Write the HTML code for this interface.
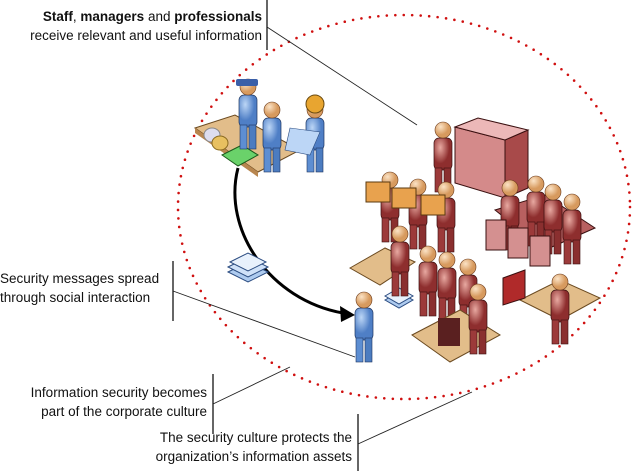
<!DOCTYPE html>
<html><head><meta charset="utf-8"><style>
body{margin:0;background:#fff;width:634px;height:473px;overflow:hidden;font-family:"Liberation Sans",sans-serif}
.t{position:absolute;font-size:13.5px;line-height:19px;color:#111;text-align:right}
</style></head><body>
<svg width="634" height="473" style="position:absolute;left:0;top:0">
<defs>
<radialGradient id="bl" cx="35%" cy="30%"><stop offset="0" stop-color="#bcd6f6"/><stop offset="1" stop-color="#4f7fc6"/></radialGradient>
<radialGradient id="rd" cx="35%" cy="30%"><stop offset="0" stop-color="#e8a9a1"/><stop offset="1" stop-color="#8e2e2e"/></radialGradient>
<radialGradient id="hd" cx="35%" cy="30%"><stop offset="0" stop-color="#fbe3c6"/><stop offset="1" stop-color="#d79a5e"/></radialGradient>
<g id="pr"><rect x="-9" y="0" width="18" height="32" rx="5" fill="url(#rd)" stroke="#3a1010" stroke-width=".7"/><rect x="-8" y="30" width="7" height="24" fill="#9c3a3a" stroke="#3a1010" stroke-width=".6"/><rect x="1" y="30" width="7" height="24" fill="#8a2f2f" stroke="#3a1010" stroke-width=".6"/><circle cx="0" cy="-8" r="8" fill="url(#hd)" stroke="#6b3a1a" stroke-width=".6"/></g>
<g id="pb"><rect x="-9" y="0" width="18" height="32" rx="5" fill="url(#bl)" stroke="#1d3560" stroke-width=".7"/><rect x="-8" y="30" width="7" height="24" fill="#5d8ed2" stroke="#1d3560" stroke-width=".6"/><rect x="1" y="30" width="7" height="24" fill="#4c7cc0" stroke="#1d3560" stroke-width=".6"/><circle cx="0" cy="-8" r="8" fill="url(#hd)" stroke="#6b3a1a" stroke-width=".6"/></g>
</defs>
<ellipse cx="404" cy="207" rx="226" ry="192" fill="none" stroke="#d01010" stroke-width="2.6" stroke-dasharray="0 8.5" stroke-linecap="round"/>
<line x1="267" y1="0" x2="267" y2="50" stroke="#000" stroke-width="1.2"/>
<line x1="267" y1="27" x2="417" y2="125" stroke="#222" stroke-width=".9"/>
<line x1="173" y1="261" x2="173" y2="321" stroke="#000" stroke-width="1.2"/>
<line x1="173" y1="291" x2="355" y2="357" stroke="#222" stroke-width=".9"/>
<line x1="213" y1="374" x2="213" y2="434" stroke="#000" stroke-width="1.2"/>
<line x1="213" y1="404" x2="290" y2="367" stroke="#222" stroke-width=".9"/>
<line x1="358" y1="414" x2="358" y2="471" stroke="#000" stroke-width="1.2"/>
<line x1="358" y1="444" x2="472" y2="392" stroke="#222" stroke-width=".9"/>
<path d="M238 168 C222 230 270 300 343 313" fill="none" stroke="#000" stroke-width="3"/>
<path d="M355 315 L340 306 L341 322 Z" fill="#000"/>
<!-- left desk group -->
<polygon points="195,128 235,115 300,150 258,172" fill="#e2bd8a" stroke="#6b4a20"/>
<polygon points="195,128 258,172 258,177 195,133" fill="#b8864f"/>
<ellipse cx="212" cy="135" rx="8" ry="7" fill="#dde" stroke="#888"/>
<ellipse cx="220" cy="143" rx="8" ry="7" fill="#e8c060" stroke="#8a6a20"/>
<polygon points="222,155 242,145 258,155 238,166" fill="#6ad26a" stroke="#1c5a1c"/>
<use href="#pb" x="248" y="95"/>
<use href="#pb" x="272" y="118"/>
<use href="#pb" x="315" y="118"/>
<circle cx="315" cy="104" r="9" fill="#e8a530" stroke="#6a4a10"/>
<rect x="236" y="79" width="22" height="7" rx="2" fill="#3a5fa8"/>
<polygon points="290,128 320,132 310,155 285,150" fill="#bcd6f6" stroke="#2a4b80" stroke-width=".6"/>
<!-- messages -->
<g transform="translate(228,262)"><polygon points="0,10 20,0 40,10 20,20" fill="#aecbef" stroke="#2a4b80"/><polygon points="0,5 20,-5 40,5 20,15" fill="#cfe1f8" stroke="#2a4b80"/><polygon points="2,0 20,-9 38,0 20,9" fill="#e8f1fc" stroke="#2a4b80"/></g>
<use href="#pb" x="364" y="308"/>
<g transform="translate(385,292)"><polygon points="0,8 14,0 28,8 14,16" fill="#aecbef" stroke="#2a4b80"/><polygon points="0,4 14,-4 28,4 14,12" fill="#e8f1fc" stroke="#2a4b80"/></g>
<!-- red cabinet -->
<polygon points="455,127 505,140 505,198 455,183" fill="#d48a8a" stroke="#3a1010"/>
<polygon points="505,140 528,130 528,188 505,198" fill="#a84a4a" stroke="#3a1010"/>
<polygon points="455,127 478,118 528,130 505,140" fill="#ecb8b8" stroke="#3a1010"/>
<use href="#pr" x="443" y="138"/>
<!-- box carriers -->
<use href="#pr" x="390" y="188"/><use href="#pr" x="418" y="195"/><use href="#pr" x="446" y="198"/>
<rect x="366" y="182" width="24" height="20" fill="#e8a24e" stroke="#5a3a10"/><rect x="392" y="188" width="24" height="20" fill="#e8a24e" stroke="#5a3a10"/><rect x="421" y="195" width="24" height="20" fill="#e8a24e" stroke="#5a3a10"/>
<!-- meeting table -->
<polygon points="495,210 545,195 595,228 545,250" fill="#b86060" stroke="#3a1010"/>
<use href="#pr" x="510" y="196"/><use href="#pr" x="536" y="192"/><use href="#pr" x="553" y="200"/><use href="#pr" x="572" y="210"/>
<rect x="486" y="220" width="20" height="30" fill="#d49090" stroke="#3a1010"/><rect x="508" y="228" width="20" height="30" fill="#d49090" stroke="#3a1010"/><rect x="530" y="236" width="20" height="30" fill="#d49090" stroke="#3a1010"/>
<!-- planning desk -->
<polygon points="350,268 385,248 415,262 380,285" fill="#e2bd8a" stroke="#6b4a20"/>
<use href="#pr" x="400" y="242"/>
<use href="#pr" x="428" y="262"/><use href="#pr" x="447" y="268"/><use href="#pr" x="468" y="275"/>
<!-- computer desk -->
<polygon points="412,335 460,310 500,335 450,362" fill="#e2bd8a" stroke="#6b4a20"/>
<rect x="438" y="318" width="22" height="28" fill="#5a2020"/>
<use href="#pr" x="478" y="300"/>
<!-- right desk -->
<polygon points="520,300 560,280 600,298 560,320" fill="#e2bd8a" stroke="#6b4a20"/>
<polygon points="503,278 525,270 525,298 503,305" fill="#b02a2a" stroke="#3a1010"/>
<use href="#pr" x="560" y="290"/>
</svg>
<div class="t" style="left:0;top:7px;width:262px"><b>Staff</b>, <b>managers</b> and <b>professionals</b><br>receive relevant and useful information</div>
<div class="t" style="left:0;top:269px;width:168px;text-align:left">Security messages spread<br>through social interaction</div>
<div class="t" style="left:0;top:383px;width:207px">Information security becomes<br>part of the corporate culture</div>
<div class="t" style="left:0;top:428px;width:352px">The security culture protects the<br>organization’s information assets</div>
</body></html>
